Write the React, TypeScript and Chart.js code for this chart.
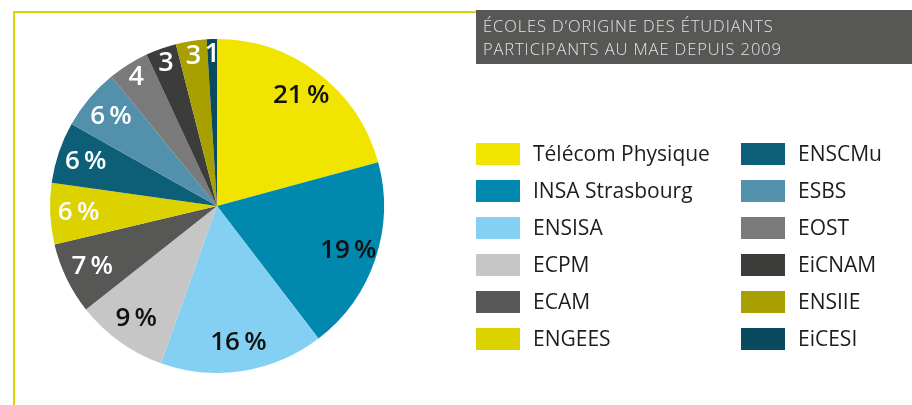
import React, { useEffect, useRef } from "react";
import { Chart, registerables } from "chart.js";

Chart.register(...registerables);

const schools = [
  "Télécom Physique",
  "INSA Strasbourg",
  "ENSISA",
  "ECPM",
  "ECAM",
  "ENGEES",
  "ENSCMu",
  "ESBS",
  "EOST",
  "EiCNAM",
  "ENSIIE",
  "EiCESI",
];
const shares = [21, 19, 16, 9, 7, 6, 6, 6, 4, 3, 3, 1];
const sliceLabels = [
  "21\u2009%",
  "19\u2009%",
  "16\u2009%",
  "9\u2009%",
  "7\u2009%",
  "6\u2009%",
  "6\u2009%",
  "6\u2009%",
  "4",
  "3",
  "3",
  "1",
];
const sliceColors = [
  "#f1e500",
  "#0088ae",
  "#84d0f3",
  "#c6c6c6",
  "#575756",
  "#dbd200",
  "#0d5f78",
  "#5390ab",
  "#7a7a7a",
  "#3c3c3b",
  "#a89f00",
  "#0a4a5f",
];
const labelInk = ["#111", "#111", "#111", "#111", "#fff", "#fff", "#fff", "#fff", "#fff", "#fff", "#fff", "#fff"];
const titleLines = ["ÉCOLES D’ORIGINE DES ÉTUDIANTS", "PARTICIPANTS AU MAE DEPUIS 2009"];

const FONT = "'Open Sans', 'Noto Sans', sans-serif";

const decorPlugin = {
  id: "decor",
  beforeDraw(chart: any) {
    const ctx = chart.ctx;
    ctx.save();
    // yellow frame
    ctx.fillStyle = "#dcd300";
    ctx.fillRect(13, 11, 463, 2);
    ctx.fillRect(13, 11, 2, 394);
    // title box
    ctx.fillStyle = "#575756";
    ctx.fillRect(476, 10, 436, 54);
    ctx.fillStyle = "#e4e4e4";
    ctx.font = `300 16.5px ${FONT}`;
    (ctx as any).letterSpacing = "0.9px";
    ctx.textBaseline = "alphabetic";
    ctx.textAlign = "left";
    ctx.fillText(titleLines[0], 483, 32);
    ctx.fillText(titleLines[1], 483, 54.5);
    (ctx as any).letterSpacing = "0px";
    ctx.restore();
  },
  afterDatasetsDraw(chart: any) {
    const ctx = chart.ctx;
    const meta = chart.getDatasetMeta(0);
    const data = chart.data.datasets[0].data as number[];
    ctx.save();
    ctx.textAlign = "center";
    ctx.textBaseline = "middle";
    meta.data.forEach((arc: any, i: number) => {
      const { x, y, startAngle, endAngle, outerRadius } = arc.getProps(
        ["x", "y", "startAngle", "endAngle", "outerRadius"],
        true
      );
      const mid = (startAngle + endAngle) / 2;
      const frac = data[i] >= 6 ? 0.83 : 0.91;
      const px = x + Math.cos(mid) * outerRadius * frac;
      const py = y + Math.sin(mid) * outerRadius * frac;
      ctx.fillStyle = labelInk[i];
      ctx.font = data[i] >= 6 ? `600 26px ${FONT}` : `600 27px ${FONT}`;
      ctx.fillText(sliceLabels[i], px, py);
    });
    // legend
    const labels = chart.data.labels as string[];
    const colors = chart.data.datasets[0].backgroundColor as string[];
    ctx.textAlign = "left";
    ctx.textBaseline = "middle";
    ctx.font = `400 21px ${FONT}`;
    labels.forEach((lab, i) => {
      const col = Math.floor(i / 6);
      const row = i % 6;
      const bx = col === 0 ? 476 : 741;
      const by = 143 + row * 37;
      ctx.fillStyle = colors[i];
      ctx.fillRect(bx, by, 44, 22);
      ctx.fillStyle = "#1d1d1b";
      ctx.fillText(lab, bx + 57, by + 12);
    });
    ctx.restore();
  },
};

export default function App() {
  const ref = useRef<HTMLCanvasElement | null>(null);
  useEffect(() => {
    document.body.style.margin = "0";
    const chart = new Chart(ref.current as HTMLCanvasElement, {
      type: "pie",
      data: {
        labels: schools,
        datasets: [
          {
            data: shares,
            backgroundColor: sliceColors,
            borderWidth: 0,
          },
        ],
      },
      options: {
        animation: false,
        responsive: false,
        maintainAspectRatio: false,
        layout: { padding: { left: 50, right: 528, top: 39, bottom: 32 } },
        plugins: {
          legend: { display: false },
          tooltip: { enabled: false },
          title: { display: false },
        },
      },
      plugins: [decorPlugin],
    });
    return () => chart.destroy();
  }, []);
  return (
    <div style={{ width: 912, height: 405, position: "relative", background: "#fff" }}>
      <canvas ref={ref} width={912} height={405} style={{ display: "block" }} />
    </div>
  );
}
